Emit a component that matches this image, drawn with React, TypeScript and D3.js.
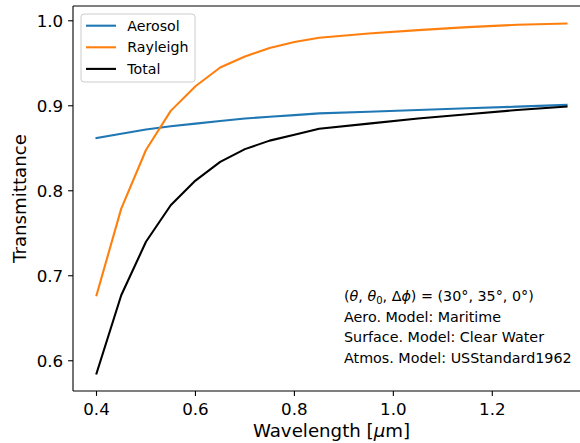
import React from "react";
import * as d3 from "d3";

const wavelengths = [0.4, 0.45, 0.5, 0.55, 0.6, 0.65, 0.7, 0.75, 0.8, 0.85, 0.95, 1.05, 1.15, 1.25, 1.35];
const aerosol = [0.862, 0.867, 0.872, 0.876, 0.879, 0.882, 0.885, 0.887, 0.889, 0.891, 0.893, 0.895, 0.897, 0.899, 0.901];
const rayleigh = [0.677, 0.779, 0.848, 0.894, 0.923, 0.945, 0.958, 0.968, 0.975, 0.980, 0.985, 0.989, 0.9925, 0.9953, 0.9968];
const total = [0.585, 0.677, 0.740, 0.783, 0.812, 0.834, 0.849, 0.859, 0.866, 0.873, 0.879, 0.885, 0.890, 0.895, 0.899];
const xTicks = [0.4, 0.6, 0.8, 1.0, 1.2];
const yTicks = [0.6, 0.7, 0.8, 0.9, 1.0];
const seriesNames = ["Aerosol", "Rayleigh", "Total"];
const seriesColors = ["#1f77b4", "#ff7f0e", "#000000"];
const annotationLines = ["Aero. Model: Maritime", "Surface. Model: Clear Water", "Atmos. Model: USStandard1962"];

const W = 580, H = 443;
const left = 73, right = 590, top = 6, bottom = 391;
const font = "DejaVu Sans, sans-serif";

export default function App() {
  const series = [aerosol, rayleigh, total];
  const xmin = d3.min(wavelengths)!, xmax = d3.max(wavelengths)!;
  const xm = (xmax - xmin) * 0.05;
  const all = series.flat();
  const ymin = d3.min(all)!, ymax = d3.max(all)!;
  const ym = (ymax - ymin) * 0.05;
  const x = d3.scaleLinear().domain([xmin - xm, xmax + xm]).range([left, right]);
  const y = d3.scaleLinear().domain([ymin - ym, ymax + ym]).range([bottom, top]);
  const line = d3.line<number>().x((_, i) => x(wavelengths[i])).y((d) => y(d));

  return (
    <svg width={W} height={H} style={{ position: "absolute", left: 0, top: 0, background: "#fff", overflow: "hidden" }} fontFamily={font}>
      <rect x={0} y={0} width={W} height={H} fill="#fff" />
      {series.map((s, i) => (
        <path key={i} d={line(s)!} fill="none" stroke={seriesColors[i]} strokeWidth={2.1} strokeLinejoin="round" strokeLinecap="square" />
      ))}
      {/* spines */}
      <g stroke="#000" strokeWidth={1.1} fill="none">
        <line x1={left} x2={left} y1={top} y2={bottom} />
        <line x1={left} x2={right} y1={bottom} y2={bottom} />
        <line x1={left} x2={right} y1={top} y2={top} />
        <line x1={right} x2={right} y1={top} y2={bottom} />
      </g>
      {xTicks.map((t) => (
        <g key={t}>
          <line x1={x(t)} x2={x(t)} y1={bottom} y2={bottom + 4.9} stroke="#000" strokeWidth={1.1} />
          <text x={x(t)} y={415} fontSize={16.7} textAnchor="middle" fill="#000">{t.toFixed(1)}</text>
        </g>
      ))}
      {yTicks.map((t) => (
        <g key={t}>
          <line x1={left - 4.9} x2={left} y1={y(t)} y2={y(t)} stroke="#000" strokeWidth={1.1} />
          <text x={63.2} y={y(t) + 6} fontSize={16.7} textAnchor="end" fill="#000">{t.toFixed(1)}</text>
        </g>
      ))}
      <text x={(left + right) / 2} y={437} fontSize={18.2} textAnchor="middle" fill="#000">
        Wavelength [<tspan fontStyle="italic">μ</tspan>m]
      </text>
      <text transform={`translate(26,${(top + bottom) / 2}) rotate(-90)`} fontSize={18.2} textAnchor="middle" fill="#000">
        Transmittance
      </text>
      {/* legend */}
      <rect x={81} y={14} width={114} height={68} rx={3} fill="#fff" fillOpacity={0.8} stroke="#cccccc" strokeWidth={1} />
      {seriesNames.map((n, i) => (
        <g key={n}>
          <line x1={86} x2={116} y1={25.7 + i * 21.6} y2={25.7 + i * 21.6} stroke={seriesColors[i]} strokeWidth={2.1} />
          <text x={127.3} y={30.8 + i * 21.6} fontSize={14.2} fill="#000">{n}</text>
        </g>
      ))}
      {/* annotation */}
      <g fontSize={14.3} fill="#000">
        <text x={344} y={300.5}>
          (<tspan fontStyle="italic">θ</tspan>, <tspan fontStyle="italic">θ</tspan><tspan fontSize={10} dy={3}>0</tspan><tspan dy={-3}>, Δ</tspan><tspan fontStyle="italic">ϕ</tspan>) = (30°, 35°, 0°)
        </text>
        {annotationLines.map((l, i) => (
          <text key={l} x={344} y={321.8 + i * 20.6}>{l}</text>
        ))}
      </g>
    </svg>
  );
}
